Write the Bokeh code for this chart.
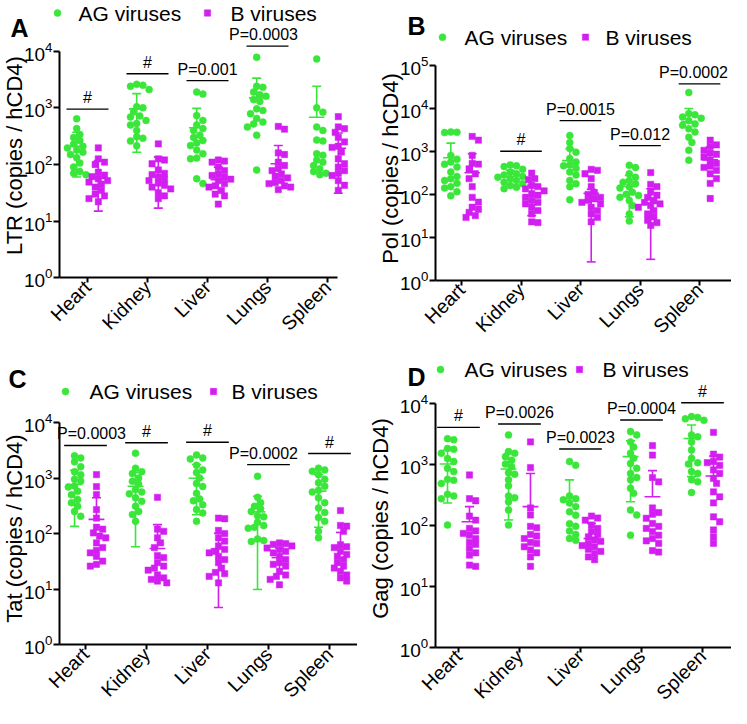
import numpy as np
from bokeh.plotting import figure
from bokeh.layouts import column, row
from bokeh.models import Range1d, FixedTicker, Label, ColumnDataSource
from bokeh.core.properties import value
from bokeh.embed import file_html
from bokeh.resources import INLINE

NAN = float("nan")
TISSUES = ["Heart", "Kidney", "Liver", "Lungs", "Spleen"]
GROUPS = ["AG viruses", "B viruses"]

# ---------------- Panel A : LTR ----------------
A_AG = [
    [640, 430, 340, 300, 265, 230, 210, 196, 180, 165, 150, 132, 106, 90, 75, 70, 66],
    [2600, 2500, 2400, 2100, 1050, 1000, 850, 720, 690, 600, 530, 500, 400, 310, 290, 260, 215],
    [1900, 1750, 730, 600, 500, 430, 400, 330, 300, 265, 240, 216, 180, 155, 130, 126, 56, 46],
    [7800, 2400, 2300, 1900, 1700, 1600, 1400, 1300, 960, 900, 790, 650, 560, 520, 460, 330, 80],
    [7300, 1000, 840, 460, 400, 270, 260, 155, 145, 120, 110, 96, 84, 75, 70, 66],
]
A_B = [
    [197, 126, 110, 100, 73, 65, 61, 56, 52, 49, 45, 40, 35, 30, 28, 25, 22],
    [232, 126, 120, 103, 80, 70, 66, 60, 55, 52, 47, 43, 40, 37, 32, 28, 25],
    [120, 115, 110, 90, 78, 68, 64, 60, 55, 52, 46, 42, 40, 35, 30, 28, 20],
    [470, 420, 160, 150, 110, 96, 85, 78, 68, 62, 58, 52, 48, 46, 42, 40, 36],
    [700, 460, 430, 370, 300, 250, 210, 200, 166, 126, 103, 90, 78, 70, 64, 52, 43, 35],
]
A_AG_MEAN = [210, 960, 445, 1500, 684]
A_AG_UP = [372, 1780, 980, 3350, 2400]
A_AG_LO = [60, 165, NAN, NAN, NAN]
A_B_MEAN = [57, 61, 54, 103, 194]
A_B_UP = [117, 135, 90, 216, 360]
A_B_LO = [15, 17, 32, NAN, 31]
A_SIG_Y = [950, 4000, 3020, 12300, NAN]
A_SIG_TXT = ["#", "#", "P=0.001", "P=0.0003", ""]

# ---------------- Panel B : Pol ----------------
B_AG = [
    [2800, 2750, 2700, 800, 650, 560, 500, 430, 330, 260, 230, 210, 180, 150, 140, 115, 92],
    [480, 460, 440, 380, 330, 300, 280, 260, 250, 230, 210, 190, 176, 160, 146, 135],
    [2300, 1600, 1150, 950, 680, 560, 480, 460, 400, 330, 280, 210, 176, 150, 75],
    [470, 420, 300, 250, 210, 190, 176, 150, 140, 112, 100, 94, 85, 72, 55, 35, 24],
    [23000, 7500, 7000, 6200, 5800, 5100, 4300, 4000, 3300, 2800, 2100, 1600, 1050, 620],
]
B_B = [
    [2200, 1800, 800, 520, 500, 390, 300, 230, 150, 85, 66, 50, 45, 38, 32, 29],
    [310, 230, 220, 160, 150, 134, 120, 103, 95, 85, 72, 65, 60, 50, 42, 35, 23, 22],
    [380, 360, 300, 230, 150, 110, 100, 85, 78, 72, 65, 60, 50, 42, 35, 29, 23],
    [320, 170, 150, 112, 95, 85, 72, 65, 60, 55, 50, 42, 35, 30, 25, 22, 19],
    [1800, 1400, 1300, 1050, 900, 850, 730, 620, 520, 450, 420, 360, 300, 230, 180, 80],
]
B_AG_MEAN = [705, 260, 605, 152, 4800]
B_AG_UP = [1540, 360, 1140, 275, 9800]
B_AG_LO = [NAN, 165, NAN, 30, NAN]
B_B_MEAN = [315, 97, 105, 61, 630]
B_B_UP = [870, 165, 131, 134, 1240]
B_B_LO = [NAN, 32, 2.7, 3.1, NAN]
B_SIG_Y = [NAN, 1000, 5130, 1350, 36500]
B_SIG_TXT = ["", "#", "P=0.0015", "P=0.012", "P=0.0002"]

# ---------------- Panel C : Tat ----------------
C_AG = [
    [2500, 2300, 1950, 1600, 1300, 1150, 950, 880, 720, 690, 580, 500, 410, 360, 310, 250, 205],
    [2800, 1500, 1300, 1200, 1000, 870, 780, 620, 560, 520, 440, 380, 310, 250, 220, 166],
    [2600, 2300, 2200, 1700, 1400, 1250, 1000, 800, 700, 530, 420, 390, 330, 270, 235, 166],
    [1070, 450, 360, 310, 280, 250, 210, 200, 160, 140, 130, 125, 80, 75, 72],
    [1500, 1400, 1320, 1150, 950, 820, 710, 600, 560, 440, 360, 290, 240, 195, 166, 110, 84],
]
C_B = [
    [1150, 700, 500, 270, 190, 130, 120, 103, 90, 84, 68, 56, 50, 45, 39, 32, 28, 26],
    [450, 120, 110, 84, 68, 56, 40, 37, 30, 26, 24, 22, 18, 16, 15, 14, 13],
    [190, 185, 114, 100, 84, 73, 60, 52, 48, 45, 39, 34, 30, 24, 20, 19, 17, 13],
    [68, 66, 64, 60, 55, 52, 48, 45, 39, 34, 30, 28, 26, 21, 18, 17, 15, 12],
    [260, 140, 136, 110, 63, 58, 56, 48, 42, 39, 34, 30, 26, 24, 21, 18, 16, 14],
]
C_AG_MEAN = [765, 710, 990, 246, 580]
C_AG_UP = [1380, 1260, 1750, 470, 1150]
C_AG_LO = [135, 58, 218, 9.9, 130]
C_B_MEAN = [180, 54, 53, 37, 56]
C_B_UP = [440, 145, 101, 55, 105]
C_B_LO = [NAN, NAN, 4.7, 19, NAN]
C_SIG_Y = [3850, 4300, 4400, 1740, 2750]
C_SIG_TXT = ["P=0.0003", "#", "#", "P=0.0002", "#"]

# ---------------- Panel D : Gag ----------------
D_AG = [
    [2600, 2500, 1800, 1750, 1500, 1230, 1100, 850, 750, 560, 540, 480, 320, 300, 270, 100],
    [3000, 1600, 1500, 1320, 1150, 1000, 900, 720, 680, 550, 440, 300, 280, 240, 176, 100],
    [1100, 950, 300, 270, 260, 230, 200, 165, 145, 105, 95, 80, 70, 60, 56],
    [3400, 3000, 2300, 1900, 1500, 1240, 1020, 850, 700, 600, 550, 400, 330, 176, 146, 68],
    [6000, 5800, 5500, 5200, 3000, 2800, 2300, 1700, 1240, 1050, 1000, 750, 700, 550, 510, 340],
]
D_B = [
    [660, 270, 250, 140, 120, 88, 80, 73, 68, 60, 52, 48, 41, 35, 32, 22, 21],
    [2300, 870, 190, 146, 95, 90, 70, 66, 60, 52, 50, 44, 39, 35, 30, 21],
    [140, 130, 120, 100, 88, 78, 70, 64, 57, 54, 50, 46, 44, 40, 37, 34, 30, 27],
    [2000, 1400, 600, 510, 190, 160, 150, 129, 106, 95, 88, 78, 68, 60, 55, 50, 38, 36],
    [3300, 1450, 1300, 1100, 1050, 950, 800, 700, 580, 480, 350, 290, 230, 136, 113, 83, 64, 50],
]
D_AG_MEAN = [1000, 830, 270, 1320, 2620]
D_AG_UP = [1700, 1490, 550, 2400, 4370]
D_AG_LO = [230, 121, NAN, 240, 620]
D_B_MEAN = [113, 200, 60, 290, 635]
D_B_UP = [200, 700, 106, 780, 1350]
D_B_LO = [NAN, NAN, NAN, NAN, NAN]
D_SIG_Y = [3980, 4520, 1760, 5260, 10100]
D_SIG_TXT = ["#", "P=0.0026", "P=0.0023", "P=0.0004", "#"]

FONT = "Liberation Sans"
GREEN = "#3AE63A"
MAGENTA = "#D21EF0"
OFF = 0.18
MARKERS = [("circle", 7.0, GREEN), ("square", 6.3, MAGENTA)]


def swarm(vals, dec_px, d=6.2):
    ys = np.log10(np.asarray(vals, float)) * dec_px
    order = np.argsort(-ys)
    cands = [0.0]
    for k in range(1, 10):
        cands += [k * d / 2, -k * d / 2]
    placed = []
    offs = np.zeros(len(ys))
    for i in order:
        for c in cands:
            if all((c - ox) ** 2 + (ys[i] - oy) ** 2 >= (d * 0.95) ** 2 for ox, oy in placed):
                offs[i] = c
                break
        placed.append((offs[i], ys[i]))
    return offs


def make_panel(letter, ylabel, top_dec, ag, bb, ag_stats, b_stats, sig_y, sig_txt, L):
    W, H = L["W"], L["H"]
    sp, hx, ax, ay, dec = L["sp"], L["heart"], L["axis_x"], L["axis_y"], L["dec"]
    x0 = 1 - hx / sp
    x1 = 1 + (W - hx) / sp
    y0 = 10 ** ((ay - H) / dec)
    y1 = 10 ** (ay / dec)
    p = figure(width=W, height=H, x_range=Range1d(x0, x1), y_range=Range1d(y0, y1),
               y_axis_type="log", output_backend="svg", toolbar_location=None,
               min_border=0, background_fill_color="white", border_fill_color="white")
    p.outline_line_color = None
    p.grid.visible = False

    axis_xd = 1 - (hx - ax) / sp
    x_end = x1 if L.get("xend") is None else 1 + (L["xend"] - hx) / sp

    for a in (p.xaxis[0], p.yaxis[0]):
        a.axis_line_width = 2
        a.axis_line_color = "black"
        a.major_tick_line_width = 2
        a.major_tick_out = 6
        a.major_tick_in = 0
        a.minor_tick_line_color = None
        a.major_label_text_font = FONT
        a.major_label_text_color = "black"
    xa, yax = p.xaxis[0], p.yaxis[0]
    xa.fixed_location = 1.0
    xa.bounds = (axis_xd, x_end)
    xa.ticker = FixedTicker(ticks=[1, 2, 3, 4, 5], minor_ticks=[])
    xa.major_label_overrides = {i + 1: t for i, t in enumerate(TISSUES)}
    xa.major_label_orientation = np.pi / 4
    xa.major_label_text_font_size = "19.5px"
    xa.major_tick_out = 5
    xa.major_label_standoff = 1
    yax.fixed_location = axis_xd
    yax.bounds = (1, 10 ** top_dec)
    yax.ticker = FixedTicker(ticks=[10 ** k for k in range(top_dec + 1)], minor_ticks=[])
    yax.major_label_text_font_size = "19px"
    yax.major_label_standoff = 1

    seg = dict(x0=[], y0=[], x1=[], y1=[], c=[])
    for gi, (data, stats) in enumerate([(ag, ag_stats), (bb, b_stats)]):
        marker, size, color = MARKERS[gi]
        xs, ys = [], []
        mean, up, lo = stats
        for ti, vals in enumerate(data):
            gx = ti + 1 + (-OFF if gi == 0 else OFF)
            offs = swarm(vals, dec)
            xs += list(gx + offs / sp)
            ys += list(vals)
            cw, mw = 0.075, 0.13
            bottom = mean[ti] if np.isnan(lo[ti]) else lo[ti]
            seg["x0"] += [gx, gx - cw, gx - mw]
            seg["x1"] += [gx, gx + cw, gx + mw]
            seg["y0"] += [bottom, up[ti], mean[ti]]
            seg["y1"] += [up[ti], up[ti], mean[ti]]
            seg["c"] += [color] * 3
            if not np.isnan(lo[ti]):
                seg["x0"].append(gx - cw)
                seg["x1"].append(gx + cw)
                seg["y0"].append(lo[ti])
                seg["y1"].append(lo[ti])
                seg["c"].append(color)
        src = ColumnDataSource(dict(x=xs, y=ys))
        p.scatter("x", "y", source=src, marker=marker, size=size,
                  fill_color=color, line_color=color, line_width=0.5)
    p.segment("x0", "y0", "x1", "y1", source=ColumnDataSource(seg), line_color="c", line_width=1.6)

    # significance bars
    sx0, sx1, sy, st, sxc, sdx = [], [], [], [], [], []
    for ti in range(5):
        if not np.isnan(sig_y[ti]):
            c = ti + 1
            sx0.append(c - 0.35)
            sx1.append(c + 0.35)
            sy.append(sig_y[ti])
            st.append(sig_txt[ti])
            sxc.append(c)
            sdx.append(L["sig_dx"][ti])
    p.segment(x0=sx0, y0=sy, x1=sx1, y1=sy, line_color="black", line_width=1.4)
    tsrc = ColumnDataSource(dict(x=sxc, y=sy, t=st, dx=sdx))
    p.text(x="x", y="y", text="t", x_offset="dx", source=tsrc, text_align="center",
           text_baseline="bottom", y_offset=-3,
           text_font=value(FONT), text_font_size=value("16px"), text_color="black")

    # legend row (key glyph + label), placed from layout pixel positions
    ky = L["legend_y"]
    for gi in range(2):
        marker, size, color = MARKERS[gi]
        kx = L["key_x"][gi]
        p.scatter(x=[x0 + kx / sp], y=[10 ** ((ay - ky) / dec)], marker=marker, size=size,
                  fill_color=color, line_color=color, line_width=0.5)
        p.add_layout(Label(x=L["txt_x"][gi], y=H - ky, x_units="screen", y_units="screen",
                           text=GROUPS[gi], text_font=FONT, text_font_size="21px",
                           text_align="left", text_baseline="middle", text_color="black"))

    lx, lb = L["letter"]
    p.add_layout(Label(x=lx, y=H - lb, x_units="screen", y_units="screen", text=letter,
                       text_font=FONT, text_font_size="25px", text_font_style="bold",
                       text_align="left", text_baseline="alphabetic", text_color="black"))
    cx, cyl = L["ylab"]
    p.add_layout(Label(x=cx, y=H - cyl, x_units="screen", y_units="screen", text=ylabel,
                       angle=np.pi / 2, text_font=FONT, text_font_size="22px",
                       text_align="center", text_baseline="middle", text_color="black"))
    return p


LA = dict(W=357, H=346, axis_x=59, axis_y=277.3, dec=56.65, heart=87, sp=60, xend=337,
          key_x=(57, 207), txt_x=(78, 230), legend_y=12.5, letter=(10, 27), ylab=(13.5, 155),
          sig_dx=[0, 0, 0, -4, 0])
LB = dict(W=374, H=346, axis_x=78, axis_y=280, dec=43.1, heart=104, sp=59.5, xend=None,
          key_x=(85, 228), txt_x=(107, 248), legend_y=36.7, letter=(50, 25), ylab=(32.5, 168),
          sig_dx=[0, 0, 0, 0, -6])
LC = dict(W=357, H=362, axis_x=59, axis_y=298.3, dec=55.6, heart=85, sp=61, xend=None,
          key_x=(65, 213), txt_x=(89, 231), legend_y=45, letter=(8, 32), ylab=(13.5, 182),
          sig_dx=[6, 0, 0, -5, 0])
LD = dict(W=374, H=362, axis_x=77.7, axis_y=300.5, dec=61, heart=101, sp=61, xend=None,
          key_x=(83, 222), txt_x=(107, 245), legend_y=23, letter=(50, 30), ylab=(23, 172),
          sig_dx=[0, 0, 0, 0, 0])

pA = make_panel("A", "LTR (copies / hCD4)", 4, A_AG, A_B,
                (A_AG_MEAN, A_AG_UP, A_AG_LO), (A_B_MEAN, A_B_UP, A_B_LO), A_SIG_Y, A_SIG_TXT, LA)
pB = make_panel("B", "Pol (copies / hCD4)", 5, B_AG, B_B,
                (B_AG_MEAN, B_AG_UP, B_AG_LO), (B_B_MEAN, B_B_UP, B_B_LO), B_SIG_Y, B_SIG_TXT, LB)
pC = make_panel("C", "Tat (copies / hCD4)", 4, C_AG, C_B,
                (C_AG_MEAN, C_AG_UP, C_AG_LO), (C_B_MEAN, C_B_UP, C_B_LO), C_SIG_Y, C_SIG_TXT, LC)
pD = make_panel("D", "Gag (copies / hCD4)", 4, D_AG, D_B,
                (D_AG_MEAN, D_AG_UP, D_AG_LO), (D_B_MEAN, D_B_UP, D_B_LO), D_SIG_Y, D_SIG_TXT, LD)

layout = column(row(pA, pB), row(pC, pD))
open("out.html", "w").write(file_html(layout, INLINE))
